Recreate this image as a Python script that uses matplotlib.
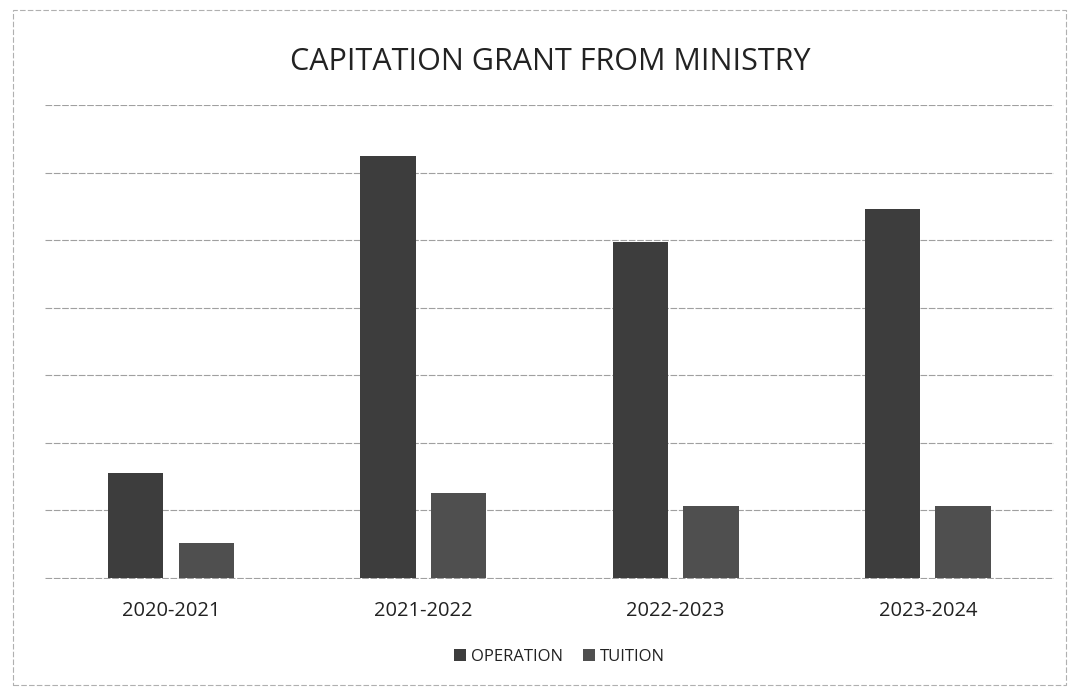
import matplotlib.pyplot as plt
import numpy as np
from matplotlib.patches import Rectangle

# grant amounts per school year (units of one gridline step = 100)
years = ['2020-2021', '2021-2022', '2022-2023', '2023-2024']
operation = [155, 625, 497, 546]
tuition = [52, 125, 107, 107]

plt.rcParams['font.family'] = ['Open Sans', 'DejaVu Sans']

fig = plt.figure(figsize=(10.69, 6.92), dpi=100)
ax = fig.add_axes([0.042, 0.163, 0.944, 0.685])

x = np.arange(len(years))
w = 0.22
ax.bar(x - 0.14, operation, w, color='#3d3d3d', label='OPERATION', zorder=3)
ax.bar(x + 0.14, tuition, w, color='#4f4f4f', label='TUITION', zorder=3)

ax.set_xlim(-0.5, 3.5)
ax.set_ylim(-2, 700)
ax.set_yticks(np.arange(0, 701, 100))
ax.yaxis.grid(True, color='#a0a0a0', lw=0.8, ls=(0, (6, 1.5)))
ax.set_axisbelow(True)
ax.tick_params(axis='y', left=False, labelleft=False)
ax.tick_params(axis='x', length=0, pad=16, labelsize=14.5, labelcolor='#222222')
ax.set_xticks(x)
ax.set_xticklabels(years)
for s in ax.spines.values():
    s.set_visible(False)

fig.text(0.515, 0.91, 'CAPITATION GRANT FROM MINISTRY', ha='center', va='center',
         fontsize=22, color='#222222')

ax.legend(loc='upper center', bbox_to_anchor=(0.51, -0.115), ncol=2, frameon=False,
          fontsize=12, handlelength=0.7, handleheight=0.7, handletextpad=0.3,
          columnspacing=1.2, labelcolor='#222222')

# faint outer border of the chart box
fig.patches.append(Rectangle((0.012, 0.01), 0.985, 0.975, transform=fig.transFigure,
                             fill=False, ec='#b0b0b0', lw=0.8, ls=(0, (5, 2))))

fig.savefig('out.png', dpi=100, facecolor='white')
